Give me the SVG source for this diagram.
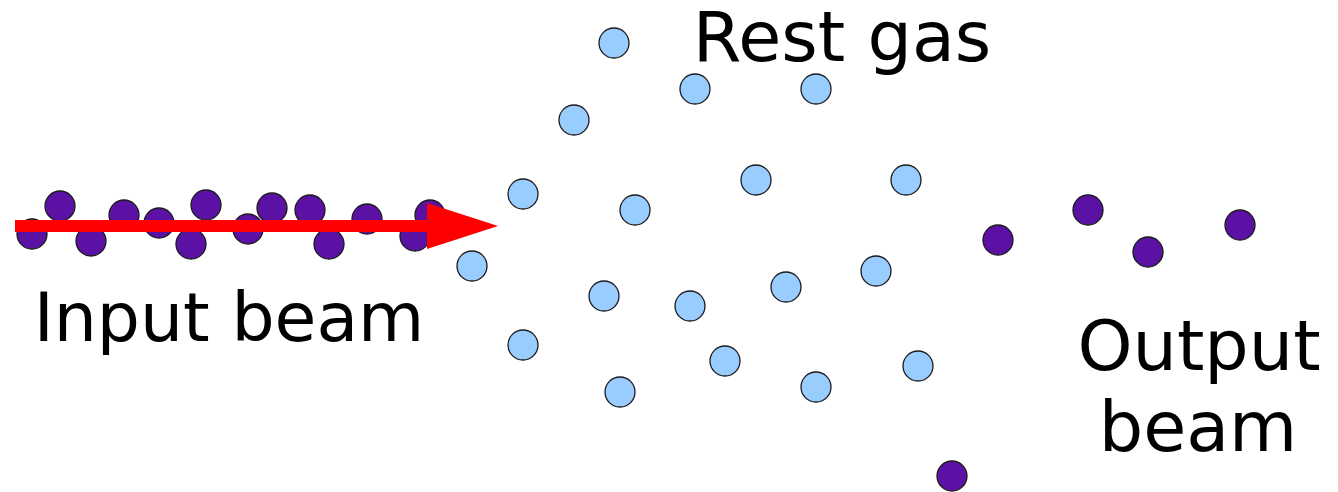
<svg xmlns="http://www.w3.org/2000/svg" width="1338" height="492" viewBox="0 0 1338 492">
<style>
.p{fill:#5b11a3;stroke:#1a1a1a;stroke-width:1.3}
.g{fill:#99ccff;stroke:#1a1a1a;stroke-width:1.3}
.t{font-family:"DejaVu Sans",sans-serif;fill:#000;text-anchor:middle}
</style>
<rect width="1338" height="492" fill="#fff"/>
<g id="input-particles">
<circle class="p" cx="32" cy="234" r="15"/>
<circle class="p" cx="60" cy="206" r="15"/>
<circle class="p" cx="91" cy="241" r="15"/>
<circle class="p" cx="124" cy="215" r="15"/>
<circle class="p" cx="159" cy="223" r="15"/>
<circle class="p" cx="191" cy="244" r="15"/>
<circle class="p" cx="206" cy="205" r="15"/>
<circle class="p" cx="248" cy="229" r="15"/>
<circle class="p" cx="272" cy="208" r="15"/>
<circle class="p" cx="310" cy="210" r="15"/>
<circle class="p" cx="329" cy="244" r="15"/>
<circle class="p" cx="367" cy="219" r="15"/>
<circle class="p" cx="415" cy="236" r="15"/>
<circle class="p" cx="430" cy="215" r="15"/>
</g>
<g id="arrow">
<rect x="15" y="220" width="413" height="12" fill="#ff0000"/>
<polygon points="427,203 498,226 427,249" fill="#ff0000"/>
</g>
<g id="rest-gas">
<circle class="g" cx="614" cy="43" r="15"/>
<circle class="g" cx="695" cy="89" r="15"/>
<circle class="g" cx="816" cy="89" r="15"/>
<circle class="g" cx="574" cy="120" r="15"/>
<circle class="g" cx="523" cy="194" r="15"/>
<circle class="g" cx="756" cy="180" r="15"/>
<circle class="g" cx="906" cy="180" r="15"/>
<circle class="g" cx="635" cy="210" r="15"/>
<circle class="g" cx="472" cy="266" r="15"/>
<circle class="g" cx="604" cy="296" r="15"/>
<circle class="g" cx="690" cy="306" r="15"/>
<circle class="g" cx="786" cy="287" r="15"/>
<circle class="g" cx="876" cy="271" r="15"/>
<circle class="g" cx="523" cy="345" r="15"/>
<circle class="g" cx="725" cy="361" r="15"/>
<circle class="g" cx="918" cy="366" r="15"/>
<circle class="g" cx="620" cy="392" r="15"/>
<circle class="g" cx="816" cy="387" r="15"/>
</g>
<g id="output-particles">
<circle class="p" cx="998" cy="240" r="15"/>
<circle class="p" cx="1088" cy="210" r="15"/>
<circle class="p" cx="1148" cy="252" r="15"/>
<circle class="p" cx="1240" cy="225" r="15"/>
<circle class="p" cx="952" cy="476" r="15"/>
</g>
<g id="labels">
<text class="t" x="842" y="61" font-size="70">Rest gas</text>
<text class="t" x="229" y="341" font-size="68">Input beam</text>
<text class="t" x="1199" y="370" font-size="70">Output</text>
<text class="t" x="1198" y="451" font-size="70">beam</text>
</g>
</svg>
